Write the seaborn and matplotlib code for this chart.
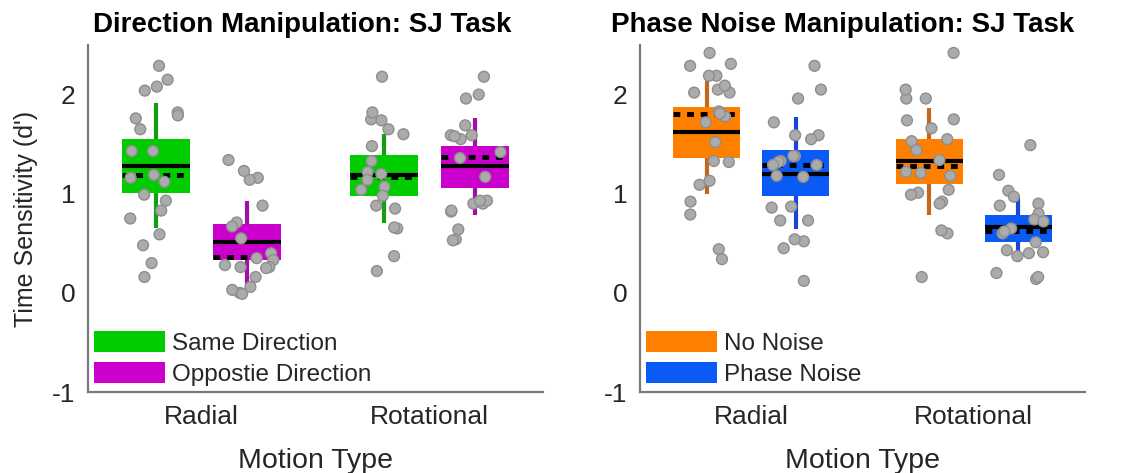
import numpy as np
import pandas as pd
import seaborn as sns
import matplotlib.pyplot as plt
from matplotlib.patches import Patch

# categories
motion_types = ["Radial", "Rotational"]

# ---- panel 1: direction manipulation ----
same_radial = [2.29, 2.15, 2.04, 2.08, 1.82, 1.79, 1.76, 1.65, 1.43, 1.43, 1.16,
               1.19, 1.12, 0.99, 0.93, 0.83, 0.75, 0.59, 0.48, 0.30, 0.16]
same_rotational = [2.18, 1.75, 1.82, 1.74, 1.60, 1.65, 1.48, 1.33, 1.20, 1.22,
                   1.14, 1.07, 1.04, 0.98, 0.88, 0.85, 0.65, 0.66, 0.37, 0.22]
opp_radial = [1.16, 1.23, 1.34, 1.14, 0.88, 0.71, 0.67, 0.55, 0.40, 0.33, 0.35,
              0.26, 0.25, 0.26, 0.28, 0.16, 0.06, 0.00, 0.03, -0.01]
opp_rotational = [2.18, 1.96, 2.00, 1.69, 1.59, 1.59, 1.55, 1.42, 1.36, 1.17,
                  0.90, 0.93, 0.90, 0.93, 0.82, 0.83, 0.64, 0.54, 0.53, 1.58]

# box stats per condition, [Radial, Rotational]
same_q1, same_q3 = [1.01, 0.98], [1.55, 1.39]
same_med, same_mean = [1.28, 1.19], [1.19, 1.17]
same_wlo, same_whi = [0.65, 0.70], [1.91, 1.60]
opp_q1, opp_q3 = [0.33, 1.06], [0.69, 1.48]
opp_med, opp_mean = [0.51, 1.28], [0.36, 1.37]
opp_wlo, opp_whi = [0.08, 0.79], [0.93, 1.76]

# ---- panel 2: phase noise manipulation ----
nonoise_radial = [2.42, 2.29, 2.31, 2.19, 2.19, 2.05, 2.02, 2.02, 2.09, 1.83, 1.72,
                  1.78, 1.81, 1.52, 1.32, 1.33, 1.09, 1.13, 0.92, 0.79, 0.44, 0.34]
nonoise_rotational = [2.42, 1.96, 1.96, 2.05, 1.74, 1.75, 1.66, 1.55, 1.53, 1.44, 1.34,
                      1.18, 1.21, 1.22, 1.04, 1.01, 0.92, 0.99, 0.90, 0.60, 0.63, 0.16]
phase_radial = [2.05, 2.29, 1.96, 1.72, 1.59, 1.59, 1.55, 1.38, 1.38, 1.33, 1.32, 1.29,
                1.29, 1.17, 1.18, 0.87, 0.86, 0.73, 0.73, 0.52, 0.54, 0.45, 0.12]
phase_rotational = [1.49, 1.19, 1.03, 0.97, 0.90, 0.88, 0.80, 0.74, 0.72, 0.65, 0.60,
                    0.62, 0.51, 0.41, 0.40, 0.37, 0.43, 0.14, 0.16, 0.20]

nonoise_q1, nonoise_q3 = [1.36, 1.10], [1.87, 1.55]
nonoise_med, nonoise_mean = [1.62, 1.33], [1.80, 1.28]
nonoise_wlo, nonoise_whi = [1.00, 0.79], [2.14, 1.86]
phase_q1, phase_q3 = [0.98, 0.51], [1.44, 0.79]
phase_med, phase_mean = [1.20, 0.66], [1.29, 0.62]
phase_wlo, phase_whi = [0.64, 0.31], [1.77, 0.97]

sns.set_style("white")
plt.rcParams["font.family"] = ["Liberation Sans", "DejaVu Sans"]

np.random.seed(3)


def long_table(cond_names, values):
    rows = []
    for cond, per_motion in zip(cond_names, values):
        for motion, vals in zip(motion_types, per_motion):
            for v in vals:
                rows.append((motion, cond, v))
    return pd.DataFrame(rows, columns=["motion", "cond", "value"])


def box_stats(q1, q3, med, mean, wlo, whi):
    return [dict(q1=q1[i], q3=q3[i], med=med[i], mean=mean[i], whislo=wlo[i],
                 whishi=whi[i], fliers=[]) for i in range(len(motion_types))]


def draw_panel(ax, title, title_x, cond_names, values, stats, box_cols, whisk_cols):
    for j, (st, bc, wc) in enumerate(zip(stats, box_cols, whisk_cols)):
        pos = np.arange(len(motion_types)) + (-0.2 if j == 0 else 0.2)
        ax.bxp(st, positions=pos, widths=0.3, patch_artist=True, showcaps=False,
               showfliers=False, showmeans=True, meanline=True,
               boxprops=dict(facecolor=bc, edgecolor="none", linewidth=0),
               whiskerprops=dict(color=wc, linewidth=3, solid_capstyle="butt"),
               medianprops=dict(color="black", linewidth=3, solid_capstyle="butt"),
               meanprops=dict(color="black", linewidth=3.5, linestyle=(0, (1.4, 1.4))),
               manage_ticks=False)
    df = long_table(cond_names, values)
    sns.stripplot(data=df, x="motion", y="value", hue="cond", hue_order=cond_names,
                  dodge=True, jitter=0.24, palette=["#ababab", "#ababab"], size=7.8,
                  edgecolor="#8e8e8e", linewidth=1, legend=False, zorder=5, ax=ax)
    ax.set_xlim(-0.5, 1.5)
    ax.set_ylim(-1, 2.5)
    ax.set_yticks([-1, 0, 1, 2])
    ax.set_yticklabels(["-1", "0", "1", "2"])
    ax.set_xticks([0, 1])
    ax.set_xticklabels(motion_types)
    ax.set_xlabel("Motion Type", fontsize=20.5, labelpad=14, color="#262626")
    ax.set_ylabel("")
    ax.set_title(title, fontsize=20, fontweight="bold", x=title_x, pad=9, color="black")
    ax.tick_params(direction="in", length=3, width=1, colors="#606060",
                   labelsize=19, labelcolor="#262626", pad=9)
    for side in ["top", "right"]:
        ax.spines[side].set_visible(False)
    for side in ["left", "bottom"]:
        ax.spines[side].set_color("#7a7a7a")
        ax.spines[side].set_linewidth(1.6)
    handles = [Patch(facecolor=c, edgecolor="none", label=n) for c, n in zip(box_cols, cond_names)]
    ax.legend(handles=handles, loc="lower left", frameon=False, fontsize=17.5,
              handlelength=2.9, handleheight=0.95, handletextpad=0.3,
              labelspacing=0.28, borderaxespad=0.25, borderpad=0)


fig = plt.figure(figsize=(11.35, 4.73), dpi=100)
ax1 = fig.add_axes([88 / 1135, 81 / 473, 455 / 1135, 347 / 473])
ax2 = fig.add_axes([640 / 1135, 81 / 473, 445 / 1135, 347 / 473])

draw_panel(ax1, "Direction Manipulation: SJ Task", 0.47,
           ["Same Direction", "Oppostie Direction"],
           [[same_radial, same_rotational], [opp_radial, opp_rotational]],
           [box_stats(same_q1, same_q3, same_med, same_mean, same_wlo, same_whi),
            box_stats(opp_q1, opp_q3, opp_med, opp_mean, opp_wlo, opp_whi)],
           ["#00cc00", "#cc00cc"], ["#12a012", "#a010a8"])
ax1.set_ylabel("Time Sensitivity (d')", fontsize=18, labelpad=10, color="#262626")

draw_panel(ax2, "Phase Noise Manipulation: SJ Task", 0.455,
           ["No Noise", "Phase Noise"],
           [[nonoise_radial, nonoise_rotational], [phase_radial, phase_rotational]],
           [box_stats(nonoise_q1, nonoise_q3, nonoise_med, nonoise_mean, nonoise_wlo, nonoise_whi),
            box_stats(phase_q1, phase_q3, phase_med, phase_mean, phase_wlo, phase_whi)],
           ["#ff8000", "#0a5af5"], ["#c4661c", "#1a46d8"])

fig.savefig("out.png", dpi=100)
